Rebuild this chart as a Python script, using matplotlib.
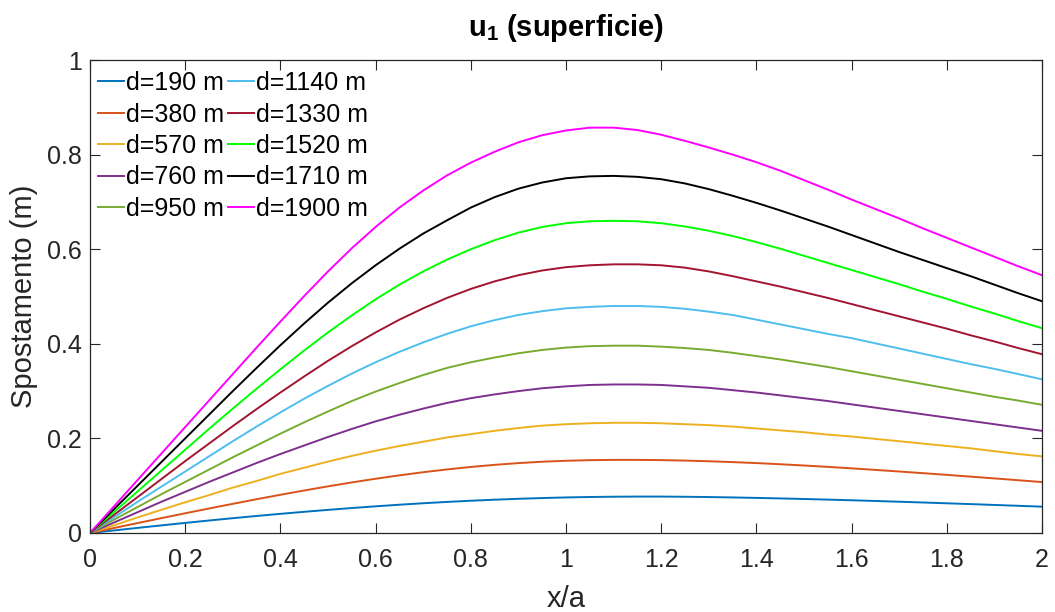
import matplotlib
matplotlib.use("Agg")
import matplotlib.pyplot as plt

plt.rcParams['font.family'] = ['Liberation Sans', 'DejaVu Sans']
plt.rcParams['mathtext.fontset'] = 'custom'
plt.rcParams['mathtext.rm'] = 'Liberation Sans'
plt.rcParams['mathtext.bf'] = 'Liberation Sans:bold'

# Normalised horizontal position x/a
x_over_a = [0.00, 0.05, 0.10, 0.15, 0.20, 0.25, 0.30, 0.35, 0.40, 0.45,
            0.50, 0.55, 0.60, 0.65, 0.70, 0.75, 0.80, 0.85, 0.90, 0.95,
            1.00, 1.05, 1.10, 1.15, 1.20, 1.25, 1.30, 1.35, 1.40, 1.45,
            1.50, 1.55, 1.60, 1.65, 1.70, 1.75, 1.80, 1.85, 1.90, 1.95, 2.00]

# Source depths (m)
depths = [190, 380, 570, 760, 950, 1140, 1330, 1520, 1710, 1900]

# Surface horizontal displacement u1 (m) for each depth
u1_d190 = [0, 0.0054, 0.0108, 0.0161, 0.0213, 0.0264, 0.0313, 0.0360, 0.0405, 0.0448,
           0.0489, 0.0528, 0.0564, 0.0598, 0.0629, 0.0657, 0.0682, 0.0704, 0.0723, 0.0739,
           0.0752, 0.0761, 0.0767, 0.0770, 0.0770, 0.0766, 0.0760, 0.0752, 0.0742, 0.0731,
           0.0719, 0.0706, 0.0692, 0.0677, 0.0661, 0.0645, 0.0628, 0.0611, 0.0593, 0.0575, 0.0557]
u1_d380 = [0, 0.0105, 0.0210, 0.0314, 0.0417, 0.0518, 0.0617, 0.0714, 0.0808, 0.0899,
           0.0986, 0.1069, 0.1147, 0.1219, 0.1285, 0.1344, 0.1396, 0.1441, 0.1478, 0.1507,
           0.1527, 0.1540, 0.1546, 0.1546, 0.1541, 0.1531, 0.1517, 0.1499, 0.1478, 0.1454,
           0.1427, 0.1398, 0.1367, 0.1334, 0.1300, 0.1265, 0.1229, 0.1192, 0.1154, 0.1116, 0.1077]
u1_d570 = [0, 0.016, 0.033, 0.049, 0.065, 0.080, 0.096, 0.110, 0.125, 0.138,
           0.151, 0.163, 0.174, 0.184, 0.193, 0.202, 0.209, 0.216, 0.222, 0.227,
           0.230, 0.232, 0.233, 0.233, 0.232, 0.230, 0.228, 0.225, 0.221, 0.217,
           0.213, 0.208, 0.204, 0.199, 0.194, 0.189, 0.184, 0.179, 0.173, 0.167, 0.162]
u1_d760 = [0, 0.022, 0.044, 0.066, 0.087, 0.108, 0.128, 0.148, 0.167, 0.185,
           0.203, 0.220, 0.236, 0.250, 0.263, 0.275, 0.285, 0.293, 0.300, 0.306,
           0.310, 0.313, 0.314, 0.314, 0.313, 0.310, 0.307, 0.302, 0.297, 0.291,
           0.285, 0.279, 0.272, 0.265, 0.258, 0.251, 0.244, 0.237, 0.230, 0.223, 0.216]
u1_d950 = [0, 0.028, 0.055, 0.082, 0.108, 0.134, 0.160, 0.185, 0.210, 0.234,
           0.257, 0.279, 0.299, 0.317, 0.334, 0.349, 0.361, 0.371, 0.380, 0.387,
           0.392, 0.395, 0.396, 0.396, 0.394, 0.391, 0.387, 0.381, 0.374, 0.367,
           0.359, 0.351, 0.342, 0.333, 0.324, 0.315, 0.306, 0.297, 0.288, 0.280, 0.271]
u1_d1140 = [0, 0.033, 0.066, 0.098, 0.130, 0.162, 0.194, 0.225, 0.255, 0.284,
            0.311, 0.337, 0.361, 0.383, 0.403, 0.421, 0.437, 0.450, 0.461, 0.469,
            0.475, 0.478, 0.480, 0.480, 0.478, 0.474, 0.468, 0.461, 0.451, 0.441,
            0.431, 0.421, 0.412, 0.401, 0.390, 0.379, 0.368, 0.357, 0.347, 0.336, 0.325]
u1_d1330 = [0, 0.038, 0.076, 0.114, 0.152, 0.189, 0.226, 0.262, 0.297, 0.331,
            0.364, 0.395, 0.424, 0.451, 0.475, 0.497, 0.516, 0.532, 0.545, 0.555,
            0.562, 0.566, 0.568, 0.568, 0.566, 0.561, 0.553, 0.543, 0.532, 0.521,
            0.509, 0.497, 0.484, 0.471, 0.458, 0.445, 0.432, 0.418, 0.405, 0.391, 0.378]
u1_d1520 = [0, 0.044, 0.088, 0.132, 0.176, 0.220, 0.263, 0.305, 0.346, 0.386,
            0.424, 0.460, 0.494, 0.525, 0.553, 0.578, 0.600, 0.619, 0.635, 0.647,
            0.655, 0.659, 0.660, 0.659, 0.655, 0.648, 0.639, 0.628, 0.615, 0.601,
            0.586, 0.571, 0.556, 0.541, 0.526, 0.510, 0.495, 0.479, 0.464, 0.448, 0.433]
u1_d1710 = [0, 0.050, 0.100, 0.150, 0.200, 0.250, 0.300, 0.349, 0.397, 0.443,
            0.487, 0.528, 0.566, 0.601, 0.633, 0.661, 0.688, 0.710, 0.728, 0.741,
            0.750, 0.754, 0.755, 0.753, 0.748, 0.739, 0.727, 0.713, 0.698, 0.682,
            0.665, 0.648, 0.630, 0.612, 0.594, 0.577, 0.560, 0.543, 0.525, 0.507, 0.490]
u1_d1900 = [0, 0.056, 0.112, 0.168, 0.224, 0.280, 0.336, 0.392, 0.447, 0.501,
            0.553, 0.602, 0.647, 0.688, 0.724, 0.756, 0.783, 0.806, 0.826, 0.841,
            0.851, 0.857, 0.857, 0.852, 0.842, 0.829, 0.815, 0.800, 0.784, 0.766,
            0.746, 0.726, 0.705, 0.685, 0.665, 0.644, 0.624, 0.604, 0.584, 0.564, 0.545]

series = [u1_d190, u1_d380, u1_d570, u1_d760, u1_d950,
          u1_d1140, u1_d1330, u1_d1520, u1_d1710, u1_d1900]

colors = ['#0072BD', '#D95319', '#EDB120', '#7E2F8E', '#77AC30',
          '#4DBEEE', '#A2142F', '#00FF00', '#000000', '#FF00FF']

xticks = [0, 0.2, 0.4, 0.6, 0.8, 1, 1.2, 1.4, 1.6, 1.8, 2]
xtick_labels = ['0', '0.2', '0.4', '0.6', '0.8', '1', '1.2', '1.4', '1.6', '1.8', '2']
yticks = [0, 0.2, 0.4, 0.6, 0.8, 1]
ytick_labels = ['0', '0.2', '0.4', '0.6', '0.8', '1']

axis_color = '#262626'

fig = plt.figure(figsize=(10.55, 6.12), dpi=100)
ax = fig.add_axes([90 / 1055, 79 / 612, 952 / 1055, 473 / 612])

for d, vals, c in zip(depths, series, colors):
    ax.plot(x_over_a, vals, color=c, lw=1.4, label=f'd={d} m',
            solid_joinstyle='round')

ax.set_xlim(0, 2)
ax.set_ylim(0, 1)
ax.set_xticks(xticks)
ax.set_xticklabels(xtick_labels)
ax.set_yticks(yticks)
ax.set_yticklabels(ytick_labels)

ax.tick_params(direction='in', length=7.2, width=0.8, top=True, right=True,
               colors=axis_color, labelsize=18)
ax.tick_params(axis='x', pad=11)
ax.tick_params(axis='y', pad=6)
for s in ax.spines.values():
    s.set_color(axis_color)
    s.set_linewidth(0.9)

ax.set_xlabel('x/a', fontsize=21, color=axis_color, labelpad=9)
ax.set_ylabel('Spostamento (m)', fontsize=21, color=axis_color, labelpad=6)
ax.set_title(r'$\mathbf{u}_{\mathbf{1}}$ (superficie)', fontsize=21,
             fontweight='bold', color='black', pad=17)

leg = ax.legend(ncol=2, loc='upper left', bbox_to_anchor=(-0.003, 1.0),
                frameon=False, fontsize=18, handlelength=1.04,
                handletextpad=0.08, columnspacing=0.15, labelspacing=0.3,
                borderaxespad=0.2, borderpad=0.24)
for t in leg.get_texts():
    t.set_color('black')

fig.savefig('out.png', dpi=100)
